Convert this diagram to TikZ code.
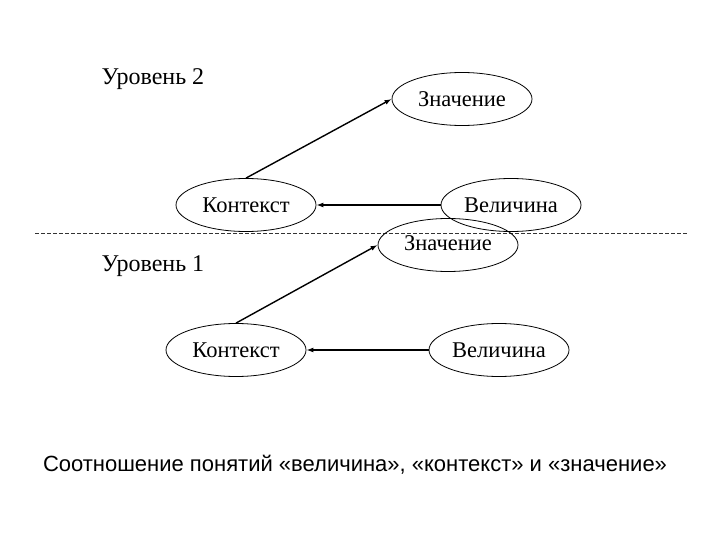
\documentclass[tikz,border=0pt]{standalone}
\usepackage{fontspec}
\setmainfont{Liberation Serif}
\newfontfamily\capfont{Liberation Sans}
\usepackage{tikz}
\usetikzlibrary{arrows.meta,shapes.geometric}

\begin{document}
\begin{tikzpicture}[x=1pt,y=-1pt,>={Latex[length=7pt,width=5pt]},
  font=\fontsize{22.5}{26}\selectfont,
  oval/.style={draw,ellipse,line width=0.8pt,inner sep=0pt,minimum width=140pt,minimum height=53pt},
  level/.style={font=\fontsize{24}{28}\selectfont},
  link/.style={->,line width=1.4pt}]
\useasboundingbox (0,0) rectangle (720,540);
% level 2
\node[level] (lev2) at (153,79) {Уровень 2};
\node[oval] (z2) at (462,99) {Значение};
\node[oval] (k2) at (246,205) {Контекст};
\node[oval] (v2) at (511,205) {Величина};
\draw[link] (k2.north) -- (z2.west);
\draw[link] (v2.west) -- (k2.east);
% separator
\draw[dashed,dash pattern=on 4pt off 2pt,line width=0.7pt,black!80] (35,233) -- (688,233);
% level 1
\node[level] (lev1) at (153,266) {Уровень 1};
\node[oval] (z1) at (448,245) {\raisebox{4pt}{Значение}};
\node[oval] (k1) at (236,350) {Контекст};
\node[oval] (v1) at (499,350) {Величина};
\draw[link] (k1.north) -- (z1.west);
\draw[link] (v1.west) -- (k1.east);
% caption
\node[font=\capfont\fontsize{22}{26}\selectfont] (cap) at (355,465) {Соотношение понятий «величина», «контекст» и «значение»};
\end{tikzpicture}
\end{document}
